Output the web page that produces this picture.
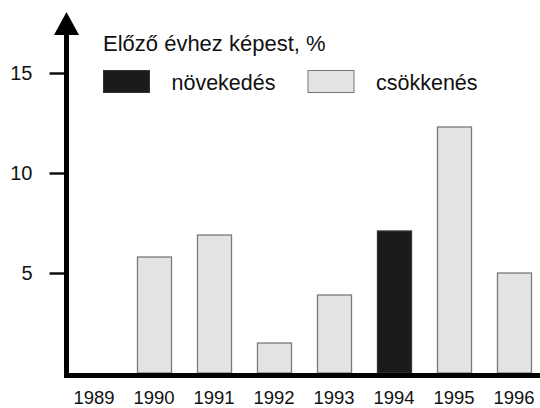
<!DOCTYPE html>
<html>
<head>
<meta charset="utf-8">
<script src="https://cdn.jsdelivr.net/npm/d3@7"></script>
<style>
  body { margin: 0; background: #fff; }
  svg { display: block; font-family: 'Liberation Sans', Arial, sans-serif; }
</style>
</head>
<body>
<div id="chart"></div>
<script>
const years = ['1989', '1990', '1991', '1992', '1993', '1994', '1995', '1996'];
const values = [0, 5.8, 6.9, 1.5, 3.9, 7.1, 12.3, 5.0];
const kinds = ['csokk', 'csokk', 'csokk', 'csokk', 'csokk', 'nov', 'csokk', 'csokk'];
const yTicks = [5, 10, 15];
const legendLabels = ['növekedés', 'csökkenés'];
const title = 'Előző évhez képest, %';

const width = 540,
  height = 408,
  axisX = 66.5,
  baseY = 375.5;

const colors = { nov: '#1b1b1b', csokk: '#e3e3e3' };

const svg = d3
  .select('#chart')
  .append('svg')
  .attr('width', width)
  .attr('height', height);

const x = d3
  .scaleBand()
  .domain(years)
  .range([64, 544])
  .paddingInner(0.433)
  .paddingOuter(0.2167);

const y = d3
  .scaleLinear()
  .domain([0, 15])
  .range([373, 73]);

// bars
svg
  .append('g')
  .selectAll('rect')
  .data(years.map((d, i) => ({ year: d, value: values[i], kind: kinds[i] })).filter(d => d.value > 0))
  .enter()
  .append('rect')
  .attr('x', d => x(d.year) + 0.5)
  .attr('y', d => y(d.value))
  .attr('width', x.bandwidth())
  .attr('height', d => y(0) - y(d.value))
  .attr('fill', d => colors[d.kind])
  .attr('stroke', d => (d.kind === 'nov' ? '#333' : '#7a7a7a'))
  .attr('stroke-width', 1.3);

// y ticks
const yAxis = svg
  .append('g')
  .attr('transform', `translate(${axisX - 2},0)`)
  .call(
    d3
      .axisLeft(y)
      .tickValues(yTicks)
      .tickSize(15)
      .tickPadding(17)
  );
yAxis.select('.domain').remove();
yAxis.selectAll('.tick line').attr('stroke', '#111').attr('stroke-width', 2.5);
yAxis
  .selectAll('.tick text')
  .attr('fill', '#111')
  .attr('font-size', 20)
  .attr('font-family', "'Liberation Sans', Arial, sans-serif");

// x labels
const xAxis = svg
  .append('g')
  .attr('transform', `translate(0,${baseY})`)
  .call(
    d3
      .axisBottom(x)
      .tickSize(0)
      .tickPadding(15)
  );
xAxis.select('.domain').remove();
xAxis
  .selectAll('.tick text')
  .attr('fill', '#111')
  .attr('font-size', 18.5)
  .attr('font-family', "'Liberation Sans', Arial, sans-serif");

// axis lines
svg
  .append('line')
  .attr('x1', axisX - 2.5)
  .attr('x2', 544)
  .attr('y1', baseY)
  .attr('y2', baseY)
  .attr('stroke', '#000')
  .attr('stroke-width', 5);

svg
  .append('line')
  .attr('x1', axisX)
  .attr('x2', axisX)
  .attr('y1', baseY + 2.5)
  .attr('y2', 30)
  .attr('stroke', '#000')
  .attr('stroke-width', 5);

svg
  .append('path')
  .attr('d', `M${axisX},12 L${axisX - 12.5},35 L${axisX + 12.5},35 Z`)
  .attr('fill', '#000');

// legend
svg
  .append('text')
  .attr('x', 103)
  .attr('y', 50.7)
  .attr('font-size', 22)
  .attr('fill', '#111')
  .text(title);

const legend = svg
  .append('g')
  .selectAll('g')
  .data(legendLabels)
  .enter()
  .append('g')
  .attr('transform', (d, i) => `translate(${103.5 + i * 204.5},70.5)`);

legend
  .append('rect')
  .attr('width', 46)
  .attr('height', 22)
  .attr('fill', (d, i) => (i === 0 ? colors.nov : colors.csokk))
  .attr('stroke', (d, i) => (i === 0 ? '#333' : '#777'))
  .attr('stroke-width', 1);

legend
  .append('text')
  .attr('x', 68)
  .attr('y', 19)
  .attr('font-size', 21.5)
  .attr('fill', '#111')
  .text(d => d);
</script>
</body>
</html>
